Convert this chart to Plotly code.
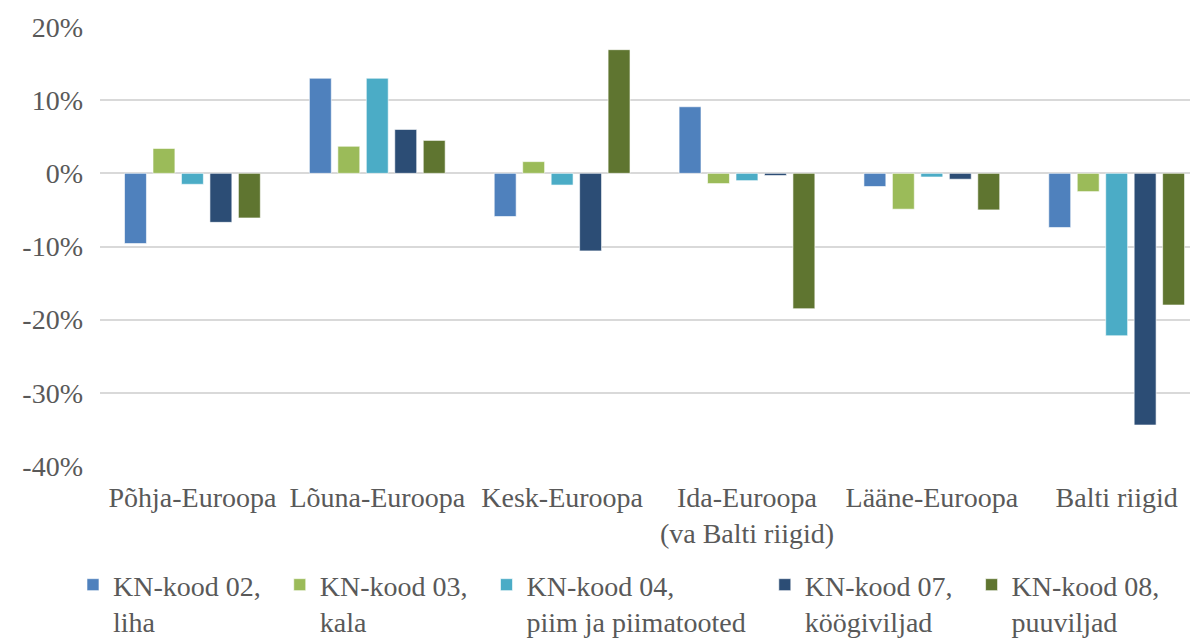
import plotly.graph_objects as go

categories = ["Põhja-Euroopa", "Lõuna-Euroopa", "Kesk-Euroopa",
              "Ida-Euroopa<br>(va Balti riigid)", "Lääne-Euroopa", "Balti riigid"]

N2 = "\u00a0\u00a0"
series_names = ["KN-kood 02," + N2 + "<br>liha",
                "KN-kood 03," + N2 + "<br>kala",
                "KN-kood 04,<br>piim ja piimatooted" + N2,
                "KN-kood 07," + N2 + "<br>köögiviljad",
                "KN-kood 08,<br>puuviljad"]

kn02 = [-0.096, 0.130, -0.059, 0.091, -0.018, -0.074]
kn03 = [0.034, 0.037, 0.016, -0.014, -0.049, -0.025]
kn04 = [-0.015, 0.130, -0.016, -0.010, -0.005, -0.222]
kn07 = [-0.067, 0.060, -0.106, -0.003, -0.008, -0.344]
kn08 = [-0.061, 0.045, 0.169, -0.185, -0.050, -0.180]

tick_vals = [-0.4, -0.3, -0.2, -0.1, 0, 0.1, 0.2]
tick_text = ["-40%", "-30%", "-20%", "-10%", "0%", "10%", "20%"]

colors = ["#4F81BD", "#9BBB59", "#4BACC6", "#2C4D75", "#5F7530"]

fig = go.Figure()
for name, vals, col in zip(series_names, [kn02, kn03, kn04, kn07, kn08], colors):
    fig.add_trace(go.Bar(x=categories, y=vals, name=name,
                         marker=dict(color=col, line=dict(color="rgba(255,255,255,0.6)", width=1))))

font_family = "Liberation Serif, Times New Roman, Times, serif"
fig.update_layout(
    width=1190, height=634,
    margin=dict(l=92, r=0, t=19, b=176),
    plot_bgcolor="white", paper_bgcolor="white",
    barmode="group", bargap=0.23, bargroupgap=0.23,
    font=dict(family=font_family, size=28, color="#595959"),
    showlegend=True,
    legend=dict(orientation="h", xref="container", yref="container",
                x=0.0546, y=0.1294, xanchor="left", yanchor="top",
                valign="top", font=dict(family=font_family, size=28, color="#595959"),
                traceorder="normal", itemwidth=30),
    xaxis=dict(range=[-0.5, 5.44], showgrid=False, zeroline=False, showline=False,
               ticks="", ticklabelstandoff=12, automargin=False,
               tickfont=dict(family=font_family, size=28, color="#595959")),
    yaxis=dict(range=[-0.4, 0.2], tickvals=tick_vals, ticktext=tick_text,
               showgrid=True, gridcolor="#D9D9D9", gridwidth=1.5,
               zeroline=True, zerolinecolor="#D9D9D9", zerolinewidth=1.5,
               showline=False, ticks="", ticklabelstandoff=16, automargin=False,
               tickfont=dict(family=font_family, size=28, color="#595959")),
)

fig.write_html("out.html")
